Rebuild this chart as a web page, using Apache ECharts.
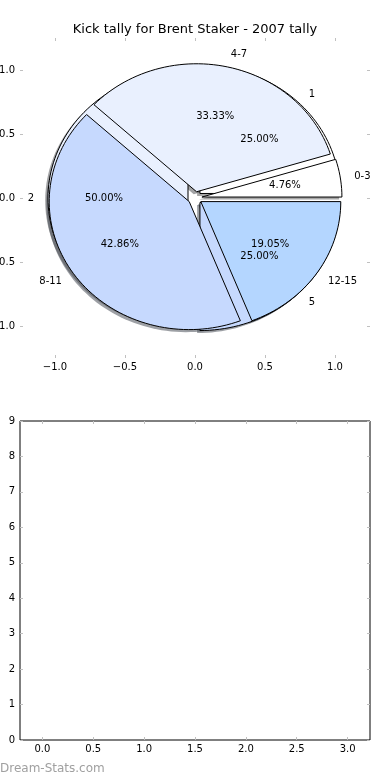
<!DOCTYPE html>
<html>
<head>
<meta charset="utf-8">
<script src="https://cdn.jsdelivr.net/npm/echarts@6/dist/echarts.min.js"></script>
<style>html,body{margin:0;padding:0;background:#fff}#c{width:390px;height:780px}</style>
</head>
<body>
<div id="c"></div>
<script>
// ---- data ----
const titleText = 'Kick tally for Brent Staker - 2007 tally';
const sliceLabels = ['0-3', '4-7', '8-11', '12-15'];
const sliceCounts = [1, 7, 9, 4];
const groupLabels = ['1', '2', '5'];
const groupCounts = [1, 2, 1];
const pieTicks = [-1.0, -0.5, 0.0, 0.5, 1.0];
const lowerXTicks = [0.0, 0.5, 1.0, 1.5, 2.0, 2.5, 3.0];
const lowerYTicks = [0, 1, 2, 3, 4, 5, 6, 7, 8, 9];
const watermark = 'Dream-Stats.com';

// ---- style ----
const palette = ['#ffffff', '#e9f0fe', '#c6d9fe', '#b4d6ff'];
const EXPLODE = 0.05, LABEL_DIST = 1.1, PCT_DIST = 0.6;
const FONT = 'DejaVu Sans';

function wedges(counts) {
  const total = counts.reduce((a, b) => a + b, 0);
  let acc = 0;
  return counts.map((v, i) => {
    const t1 = acc / total * 2 * Math.PI;
    acc += v;
    const t2 = acc / total * 2 * Math.PI;
    const tm = (t1 + t2) / 2;
    return { t1, t2, tm, pct: v / total * 100, cx: EXPLODE * Math.cos(tm), cy: EXPLODE * Math.sin(tm), color: palette[i % palette.length] };
  });
}
const topW = wedges(sliceCounts);
const baseW = wedges(groupCounts);

function wedgePoints(api, w, ox, oy) {
  const pts = [api.coord([w.cx + ox, w.cy + oy])];
  const n = Math.max(8, Math.ceil((w.t2 - w.t1) / (Math.PI / 90)));
  for (let k = 0; k <= n; k++) {
    const t = w.t1 + (w.t2 - w.t1) * k / n;
    pts.push(api.coord([w.cx + ox + Math.cos(t), w.cy + oy + Math.sin(t)]));
  }
  return pts;
}
function darken(hex) {
  const r = parseInt(hex.slice(1, 3), 16), g = parseInt(hex.slice(3, 5), 16), b = parseInt(hex.slice(5, 7), 16);
  return 'rgba(' + Math.round(r * 0.3) + ',' + Math.round(g * 0.3) + ',' + Math.round(b * 0.3) + ',0.5)';
}

const allShadow = baseW.concat(topW);

function wedgeSeries(list, isShadow) {
  return {
    type: 'custom', coordinateSystem: 'cartesian2d', xAxisIndex: 0, yAxisIndex: 0,
    clip: false, silent: true,
    data: list.map((w, i) => [i]),
    renderItem: function (params, api) {
      const w = list[params.dataIndex];
      if (isShadow) {
        return { type: 'polygon', shape: { points: wedgePoints(api, w, -0.02, -0.02) }, style: { fill: darken(w.color), stroke: null } };
      }
      return { type: 'polygon', shape: { points: wedgePoints(api, w, 0, 0) }, style: { fill: w.color, stroke: '#000', lineWidth: 1, lineJoin: 'miter' } };
    }
  };
}

const labelItems = [];
function pushLabels(list, labels) {
  list.forEach((w, i) => {
    const lx = w.cx + LABEL_DIST * Math.cos(w.tm), ly = w.cy + LABEL_DIST * Math.sin(w.tm);
    labelItems.push({ x: lx, y: ly, text: labels[i], align: lx > 0 ? 'left' : 'right' });
    labelItems.push({ x: w.cx + PCT_DIST * Math.cos(w.tm), y: w.cy + PCT_DIST * Math.sin(w.tm), text: w.pct.toFixed(2) + '%', align: 'center' });
  });
}
pushLabels(baseW, groupLabels);
pushLabels(topW, sliceLabels);

const labelSeries = {
  type: 'custom', coordinateSystem: 'cartesian2d', xAxisIndex: 0, yAxisIndex: 0,
  clip: false, silent: true,
  data: labelItems.map((d, i) => [d.x, d.y]),
  renderItem: function (params, api) {
    const d = labelItems[params.dataIndex];
    const p = api.coord([d.x, d.y]);
    return { type: 'text', x: p[0], y: p[1], style: { text: d.text, fill: '#000', font: '10px "' + FONT + '"', align: d.align, verticalAlign: 'middle' } };
  }
};

const fmt1 = v => (v < 0 ? '\u2212' : '') + Math.abs(v).toFixed(1);
const tickStyle = { show: true, inside: true, length: 3, lineStyle: { color: '#c0c0c0', width: 1 } };

function xAx(grid, pos, min, max, ticks, labels) {
  return {
    type: 'value', gridIndex: grid, position: pos, min: min, max: max,
    axisLine: { show: false, onZero: false }, splitLine: { show: false },
    axisTick: Object.assign({}, tickStyle, { customValues: ticks }),
    axisLabel: labels ? { show: true, customValues: ticks, formatter: fmt1, fontSize: 10, color: '#000', fontFamily: FONT, margin: 4 } : { show: false }
  };
}
function yAx(grid, pos, min, max, ticks, labels, f) {
  return {
    type: 'value', gridIndex: grid, position: pos, min: min, max: max,
    axisLine: { show: false, onZero: false }, splitLine: { show: false },
    axisTick: Object.assign({}, tickStyle, { customValues: ticks }),
    axisLabel: labels ? { show: true, customValues: ticks, formatter: f, fontSize: 10, color: '#000', fontFamily: FONT, margin: 5 } : { show: false }
  };
}

const chart = echarts.init(document.getElementById('c'), null, { renderer: 'canvas' });
chart.setOption({
  animation: false,
  backgroundColor: '#ffffff',
  title: { text: titleText, left: 'center', top: 22, padding: 0, textStyle: { fontSize: 13, fontWeight: 'normal', color: '#000', fontFamily: FONT, lineHeight: 16 } },
  grid: [
    { left: 20, top: 38, width: 350, height: 320, show: false, outerBoundsMode: 'none', containLabel: false },
    { left: 20, top: 421, width: 350, height: 319, show: true, borderColor: '#000', borderWidth: 1, backgroundColor: 'transparent', outerBoundsMode: 'none', containLabel: false }
  ],
  xAxis: [
    xAx(0, 'bottom', -1.25, 1.25, pieTicks, true),
    xAx(0, 'top', -1.25, 1.25, pieTicks, false),
    xAx(1, 'bottom', -0.22, 3.22, lowerXTicks, true),
    xAx(1, 'top', -0.22, 3.22, lowerXTicks, false)
  ],
  yAxis: [
    yAx(0, 'left', -1.25, 1.25, pieTicks, true, fmt1),
    yAx(0, 'right', -1.25, 1.25, pieTicks, false),
    yAx(1, 'left', 0, 9, lowerYTicks, true, v => String(v)),
    yAx(1, 'right', 0, 9, lowerYTicks, false)
  ],
  graphic: [
    { type: 'text', left: 0, top: 763, style: { text: watermark, fill: '#a0a0a0', font: '12px "' + FONT + '"' } }
  ],
  series: [
    wedgeSeries(allShadow, true),
    wedgeSeries(baseW, false),
    wedgeSeries(topW, false),
    labelSeries
  ]
});
</script>
</body>
</html>
